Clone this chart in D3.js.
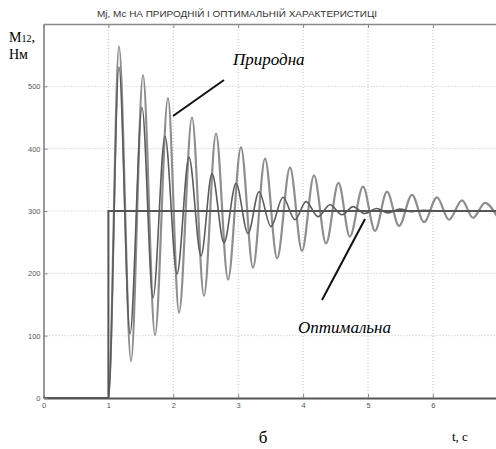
<!DOCTYPE html>
<html>
<head>
<meta charset="utf-8">
<script src="https://cdn.jsdelivr.net/npm/d3@7"></script>
<style>
  body { margin: 0; background: #fff; }
  svg { display: block; }
</style>
</head>
<body>
<svg width="496" height="449"></svg>
<script>
// values (t in s, M in Nm), extrema of each oscillation
var natT = [0, 1, 1.163, 1.348, 1.533, 1.718, 1.918, 2.088, 2.288, 2.473, 2.658, 2.843, 3.043, 3.228, 3.413, 3.60, 3.798, 3.983, 4.168, 4.353, 4.545, 4.72, 4.923, 5.108, 5.293, 5.478, 5.678, 5.863, 6.063, 6.248, 6.448, 6.618, 6.803, 6.99]
var natM = [0, 0, 564, 59, 518, 101, 481, 137, 450, 164, 424, 190, 402, 209, 384, 224, 370, 236, 357, 248, 345, 259, 339, 268, 331, 276, 326, 282, 322, 286, 317, 289, 313, 291]

var optT = [0, 1, 1.163, 1.333, 1.518, 1.687, 1.872, 2.057, 2.242, 2.427, 2.596, 2.781, 2.966, 3.151, 3.321, 3.505, 3.690, 3.875, 4.045, 4.23, 4.414, 4.6, 4.77, 4.95, 5.13, 5.31, 5.49, 5.67, 5.85, 6.2, 7]
var optM = [0, 0, 531, 103, 466, 161, 420, 199, 386, 228, 360, 249, 344, 264, 331, 275, 322, 286, 315, 291, 310, 294, 307, 296, 304, 297, 303, 299, 301, 300, 300]

// load torque Mc (step)
var mcT = [0, 1, 1, 7]
var mcM = [0, 0, 300, 300]

var xTicks = [0, 1, 2, 3, 4, 5, 6]
var yTicks = [0, 100, 200, 300, 400, 500]

var svg = d3.select("svg")
var plotLeft = 43.5, plotRight = 497.8, plotTop = 24, plotBottom = 398

var x = d3.scaleLinear().domain([0, 7]).range([plotLeft, plotRight])
var y = d3.scaleLinear().domain([0, 600]).range([plotBottom, plotTop])

svg.append("rect").attr("width", 496).attr("height", 449).attr("fill", "#fff")

svg.append("defs").append("clipPath").attr("id", "plot")
  .append("rect").attr("x", plotLeft).attr("y", plotTop).attr("width", plotRight - plotLeft).attr("height", plotBottom - plotTop)

// title
svg.append("text")
  .attr("x", 97).attr("y", 17)
  .attr("textLength", 280)
  .attr("lengthAdjust", "spacingAndGlyphs")
  .style("font-family", "Liberation Sans Narrow, Liberation Sans, Arial, sans-serif")
  .style("font-size", "8.5px")
  .style("fill", "#333")
  .text("Мj, Мс НА ПРИРОДНІЙ І ОПТИМАЛЬНІЙ ХАРАКТЕРИСТИЦІ")

// grid
var grid = svg.append("g").style("stroke", "#c4c4c4").style("stroke-dasharray", "1,2")
grid.selectAll(".gx").data(xTicks.slice(1)).enter().append("line")
  .attr("x1", function (d) { return x(d) }).attr("x2", function (d) { return x(d) })
  .attr("y1", plotTop).attr("y2", plotBottom)
grid.selectAll(".gy").data(yTicks.slice(1)).enter().append("line")
  .attr("x1", plotLeft).attr("x2", plotRight)
  .attr("y1", function (d) { return y(d) }).attr("y2", function (d) { return y(d) })

// axes
var fmt = d3.format("d")
var xAxis = svg.append("g")
  .attr("transform", "translate(0," + plotBottom + ")")
  .call(d3.axisBottom(x).tickValues(xTicks).tickFormat(fmt).tickSizeInner(-4).tickSizeOuter(0).tickPadding(5))
var yAxis = svg.append("g")
  .attr("transform", "translate(" + plotLeft + ",0)")
  .call(d3.axisLeft(y).tickValues(yTicks).tickFormat(fmt).tickSizeInner(-4).tickSizeOuter(0).tickPadding(3))
var topAxis = svg.append("g")
  .attr("transform", "translate(0," + plotTop + ")")
  .call(d3.axisTop(x).tickValues(xTicks).tickSizeInner(-4).tickSizeOuter(0).tickFormat(""))

xAxis.select(".domain").style("stroke", "#555").style("stroke-width", 2)
yAxis.select(".domain").style("stroke", "#777").style("stroke-width", 1.5)
topAxis.select(".domain").style("stroke", "#888").style("stroke-width", 1.5)
svg.selectAll(".tick line").style("stroke", "#888")
svg.selectAll(".tick text")
  .style("font-family", "Liberation Sans, Arial, sans-serif")
  .style("font-size", "7.5px")
  .style("fill", "#555")

// curves
var plot = svg.append("g").attr("clip-path", "url(#plot)")

var smooth = d3.line()
  .x(function (d) { return x(d[0]) })
  .y(function (d) { return y(d[1]) })
  .curve(d3.curveMonotoneX)
var straight = d3.line()
  .x(function (d) { return x(d[0]) })
  .y(function (d) { return y(d[1]) })

plot.append("path")
  .datum(natT.map(function (t, i) { return [t, natM[i]] }))
  .attr("d", smooth)
  .style("fill", "none").style("stroke", "#8e8e8e").style("stroke-width", 2.2)

plot.append("path")
  .datum(optT.map(function (t, i) { return [t, optM[i]] }))
  .attr("d", smooth)
  .style("fill", "none").style("stroke", "#5c5c5c").style("stroke-width", 1.6)

plot.append("path")
  .datum(mcT.map(function (t, i) { return [t, mcM[i]] }))
  .attr("d", straight)
  .style("fill", "none").style("stroke", "#555").style("stroke-width", 2)

// y label
svg.append("text").attr("x", 9).attr("y", 42)
  .style("font-family", "Liberation Serif, Times New Roman, serif").style("font-size", "14px")
  .html("M<tspan font-size='10px'>12</tspan>,")
svg.append("text").attr("x", 9).attr("y", 59)
  .style("font-family", "Liberation Serif, Times New Roman, serif").style("font-size", "14px")
  .text("Нм")

// annotations
svg.append("line").attr("x1", 173).attr("y1", 116).attr("x2", 224).attr("y2", 80)
  .style("stroke", "#111").style("stroke-width", 2)
svg.append("text").attr("x", 233).attr("y", 65)
  .style("font-family", "Liberation Serif, Times New Roman, serif").style("font-style", "italic").style("font-size", "17px")
  .text("Природна")

svg.append("line").attr("x1", 322).attr("y1", 300).attr("x2", 365).attr("y2", 219)
  .style("stroke", "#111").style("stroke-width", 2)
svg.append("text").attr("x", 298).attr("y", 333)
  .style("font-family", "Liberation Serif, Times New Roman, serif").style("font-style", "italic").style("font-size", "17px")
  .text("Оптимальна")

// bottom labels
svg.append("text").attr("x", 263).attr("y", 443).attr("text-anchor", "middle")
  .style("font-family", "Liberation Serif, Times New Roman, serif").style("font-size", "17px")
  .text("б")
svg.append("text").attr("x", 452).attr("y", 441)
  .style("font-family", "Liberation Serif, Times New Roman, serif").style("font-size", "13px")
  .text("t, c")
</script>
</body>
</html>
